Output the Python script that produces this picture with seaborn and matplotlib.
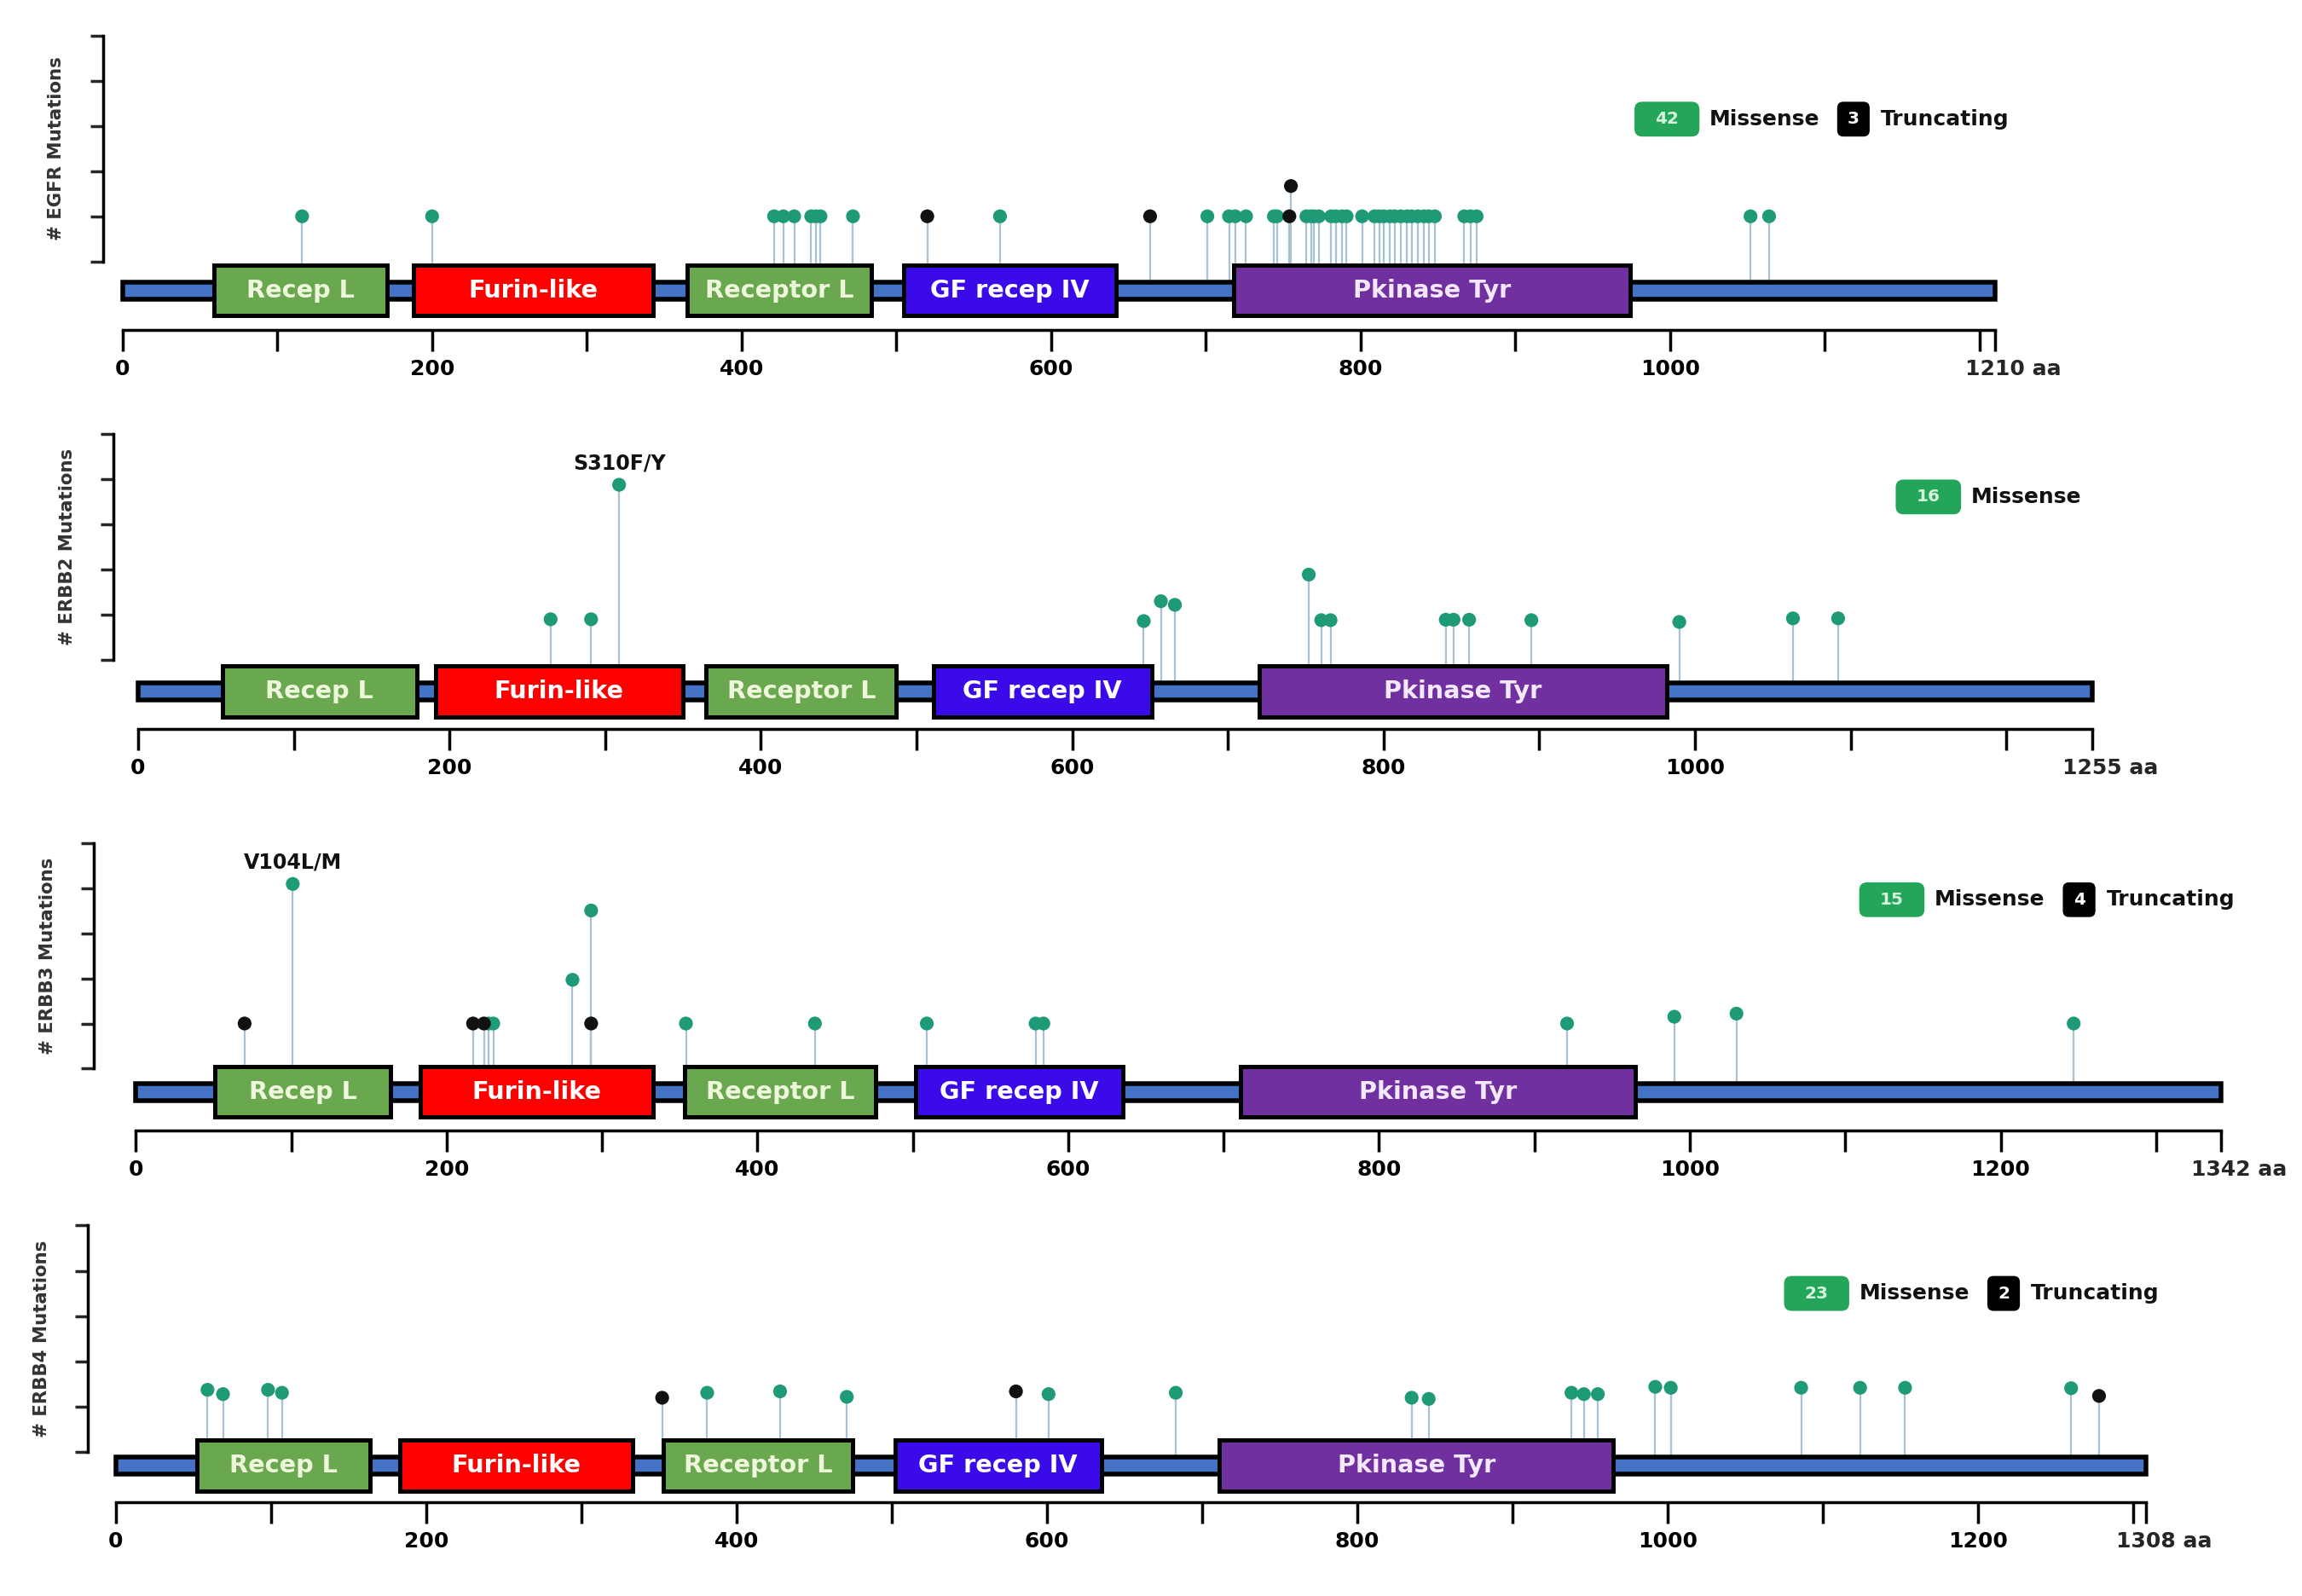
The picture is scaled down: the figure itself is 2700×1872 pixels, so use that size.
import numpy as np
import pandas as pd
import matplotlib
matplotlib.use("Agg")
import matplotlib.pyplot as plt
from matplotlib.patches import Rectangle, FancyBboxPatch
import seaborn as sns

sns.set_style("white")
plt.rcParams['font.family'] = ['DejaVu Sans']

# ---- data ----
genes = ["EGFR", "ERBB2", "ERBB3", "ERBB4"]
lengths = [1210, 1255, 1342, 1308]
missense_counts = [42, 16, 15, 23]
truncating_counts = [3, 0, 4, 2]

domain_names = ["Recep L", "Furin-like", "Receptor L", "GF recep IV", "Pkinase Tyr"]
egfr_dom_start = [59, 188, 365, 505, 718]
egfr_dom_end = [171, 343, 484, 642, 974]
erbb2_dom_start = [54, 191, 365, 511, 720]
erbb2_dom_end = [179, 350, 487, 651, 982]
erbb3_dom_start = [51, 183, 353, 502, 711]
erbb3_dom_end = [164, 333, 476, 635, 965]
erbb4_dom_start = [52, 183, 353, 502, 711]
erbb4_dom_end = [164, 333, 475, 635, 965]

egfr_mis_pos = [116, 200, 421, 427, 434, 445, 448, 451, 472, 567,
                701, 715, 719, 726, 744, 746, 765, 768, 770, 773,
                781, 784, 788, 791, 801, 809, 812, 815, 819, 822,
                826, 830, 833, 837, 841, 844, 848, 867, 871, 875,
                1052, 1064]
egfr_mis_h = [1.0] * len(egfr_mis_pos)
egfr_trunc_pos = [520, 664, 754, 755]
egfr_trunc_h = [1.0, 1.0, 1.0, 1.67]

erbb2_mis_pos = [265, 291, 309, 646, 657, 666, 752, 760, 766, 840, 845, 855,
                 895, 990, 1063, 1092]
erbb2_mis_h = [0.9, 0.9, 3.88, 0.86, 1.30, 1.22, 1.89, 0.88, 0.88, 0.89, 0.89,
               0.89, 0.88, 0.84, 0.92, 0.92]
erbb2_trunc_pos = []
erbb2_trunc_h = []

erbb3_mis_pos = [101, 227, 230, 281, 293, 354, 437, 509, 579, 584, 921, 990,
                 1030, 1247]
erbb3_mis_h = [4.10, 1.0, 1.0, 1.97, 3.51, 1.0, 1.0, 1.0, 1.0, 1.0, 1.0, 1.15,
               1.22, 1.0]
erbb3_trunc_pos = [70, 217, 224, 293]
erbb3_trunc_h = [1.0, 1.0, 1.0, 1.0]

erbb4_mis_pos = [59, 69, 98, 107, 381, 428, 471, 601, 683, 835, 846, 938, 946,
                 955, 992, 1002, 1086, 1124, 1153, 1260]
erbb4_mis_h = [1.375, 1.28, 1.375, 1.31, 1.31, 1.34, 1.22, 1.28, 1.31, 1.2,
               1.175, 1.31, 1.28, 1.28, 1.44, 1.42, 1.42, 1.42, 1.42, 1.41]
erbb4_trunc_pos = [352, 580, 1278]
erbb4_trunc_h = [1.2, 1.34, 1.24]

hotspot_gene = ["ERBB2", "ERBB3"]
hotspot_label = ["S310F/Y", "V104L/M"]
hotspot_pos = [309, 101]
hotspot_h = [3.88, 4.10]

dom_starts = [egfr_dom_start, erbb2_dom_start, erbb3_dom_start, erbb4_dom_start]
dom_ends = [egfr_dom_end, erbb2_dom_end, erbb3_dom_end, erbb4_dom_end]
mis = [(egfr_mis_pos, egfr_mis_h), (erbb2_mis_pos, erbb2_mis_h),
       (erbb3_mis_pos, erbb3_mis_h), (erbb4_mis_pos, erbb4_mis_h)]
trunc = [(egfr_trunc_pos, egfr_trunc_h), (erbb2_trunc_pos, erbb2_trunc_h),
         (erbb3_trunc_pos, erbb3_trunc_h), (erbb4_trunc_pos, erbb4_trunc_h)]

# ---- styling / layout (pixel positions in the 2700x1872 output) ----
domain_colors = ["#6aa84f", "#ff0000", "#6aa84f", "#3b0ae8", "#7030a0"]
domain_text = ["#eef7dc", "#ffffff", "#eef7dc", "#ffffff", "#f4e8ff"]
mis_color = "#1e9a77"
trunc_color = "#111111"
stalk_color = "#a9c1d1"
legend_green = "#23a55a"

layout = [
    dict(x0=143.8, scale=1.815, spine=120.5, top=41.7, zero=306.7, ruler=386.7, bb=-0.64, ly=3.15),
    dict(x0=161.9, scale=1.826, spine=133.4, top=509.3, zero=774.0, ruler=855.0, bb=-0.70, ly=3.61),
    dict(x0=159.3, scale=1.8227, spine=110.2, top=989.3, zero=1253.3, ruler=1326.0, bb=-0.52, ly=3.75),
    dict(x0=136.0, scale=1.82, spine=103.3, top=1437.3, zero=1703.3, ruler=1761.7, bb=-0.29, ly=3.50),
]

W, H = 2700, 1872
fig = plt.figure(figsize=(15, 10.4), dpi=180)

for i, gene in enumerate(genes):
    g = layout[i]
    L = lengths[i]
    unit = (g["zero"] - g["top"]) / 5.0
    ymin = -(g["ruler"] - g["zero"]) / unit
    xmin = (g["spine"] - g["x0"]) / g["scale"]
    xmax = L + 3
    left_px = g["spine"]
    right_px = g["x0"] + xmax * g["scale"]
    ax = fig.add_axes([left_px / W, 1 - g["ruler"] / H,
                       (right_px - left_px) / W, (g["ruler"] - g["top"]) / H])

    df = pd.concat([
        pd.DataFrame({"pos": mis[i][0], "height": mis[i][1], "type": "Missense"}),
        pd.DataFrame({"pos": trunc[i][0], "height": trunc[i][1], "type": "Truncating"}),
    ], ignore_index=True)

    bb = g["bb"]
    ax.vlines(df["pos"], bb, df["height"], colors=stalk_color, linewidth=0.9, zorder=1)
    sns.scatterplot(data=df, x="pos", y="height", hue="type",
                    palette={"Missense": mis_color, "Truncating": trunc_color},
                    s=42, linewidth=0, legend=False, ax=ax, zorder=4)

    # protein backbone
    ax.add_patch(Rectangle((0, bb - 0.19), L, 0.38, facecolor="#4472c4",
                           edgecolor="black", linewidth=2.2, zorder=2))
    # domains
    for s, e, name, c, tc in zip(dom_starts[i], dom_ends[i], domain_names,
                                 domain_colors, domain_text):
        ax.add_patch(Rectangle((s, bb - 0.56), e - s, 1.12, facecolor=c,
                               edgecolor="black", linewidth=2.0, zorder=3))
        ax.text((s + e) / 2, bb, name, ha="center", va="center", color=tc,
                fontsize=11.5, fontweight="bold", zorder=5)

    # hotspot labels
    for hg, lab, hp, hh in zip(hotspot_gene, hotspot_label, hotspot_pos, hotspot_h):
        if hg == gene:
            ax.text(hp, hh + 0.48, lab, ha="center", va="center",
                    fontsize=9.5, fontweight="bold", color="#111111")

    # legend
    asp = g["scale"] / unit
    ly = g["ly"]
    gx = L - 233 if truncating_counts[i] > 0 else L - 126
    ax.add_patch(FancyBboxPatch((gx, ly - 0.385), 42, 0.77,
                                boxstyle="round,pad=0,rounding_size=5",
                                mutation_aspect=asp, facecolor=legend_green,
                                edgecolor="none", zorder=5))
    ax.text(gx + 21, ly, str(missense_counts[i]), ha="center", va="center",
            color="#d6f5dc", fontsize=8, fontweight="bold", zorder=6)
    ax.text(gx + 48.5, ly, "Missense", ha="left", va="center",
            fontsize=10, fontweight="bold", color="#111111")
    if truncating_counts[i] > 0:
        ax.add_patch(FancyBboxPatch((gx + 131, ly - 0.385), 21, 0.77,
                                    boxstyle="round,pad=0,rounding_size=4",
                                    mutation_aspect=asp, facecolor="black",
                                    edgecolor="none", zorder=5))
        ax.text(gx + 141.5, ly, str(truncating_counts[i]), ha="center", va="center",
                color="white", fontsize=8, fontweight="bold", zorder=6)
        ax.text(gx + 159, ly, "Truncating", ha="left", va="center",
                fontsize=10, fontweight="bold", color="#111111")

    # axes
    ax.set_xlim(xmin, xmax)
    ax.set_ylim(ymin, 5)
    ax.spines["top"].set_visible(False)
    ax.spines["right"].set_visible(False)
    ax.spines["left"].set_bounds(0, 5)
    ax.spines["bottom"].set_bounds(0, L)
    for sp in ("left", "bottom"):
        ax.spines[sp].set_linewidth(1.4)
        ax.spines[sp].set_color("black")

    ticks = list(range(0, L, 100)) + [L]
    labels = []
    for t in ticks[:-1]:
        labels.append(str(t) if (t % 200 == 0 and L - t > 80) else "")
    labels.append("")
    ax.set_xticks(ticks)
    ax.set_xticklabels(labels, fontweight="bold")
    ax.annotate(f"{L} aa", xy=(L, ymin), xycoords="data",
                xytext=(8.5, -13.6), textcoords="offset points",
                ha="center", va="top", fontsize=10, fontweight="bold")
    ax.tick_params(axis="x", direction="out", length=10, width=1.4, pad=3.6,
                   labelsize=10, colors="black", bottom=True)
    ax.set_yticks(range(6))
    ax.set_yticklabels([])
    ax.tick_params(axis="y", direction="out", length=6, width=1.4, left=True)

    ax.set_xlabel("")
    ax.set_ylabel(f"# {gene} Mutations", fontsize=8.5, fontweight="bold",
                  color="#333333")
    ax_w = (xmax - xmin) * g["scale"]
    ax.yaxis.set_label_coords(-44 / ax_w, (2.5 - ymin) / (5 - ymin))

fig.savefig("out.png", dpi=180)
